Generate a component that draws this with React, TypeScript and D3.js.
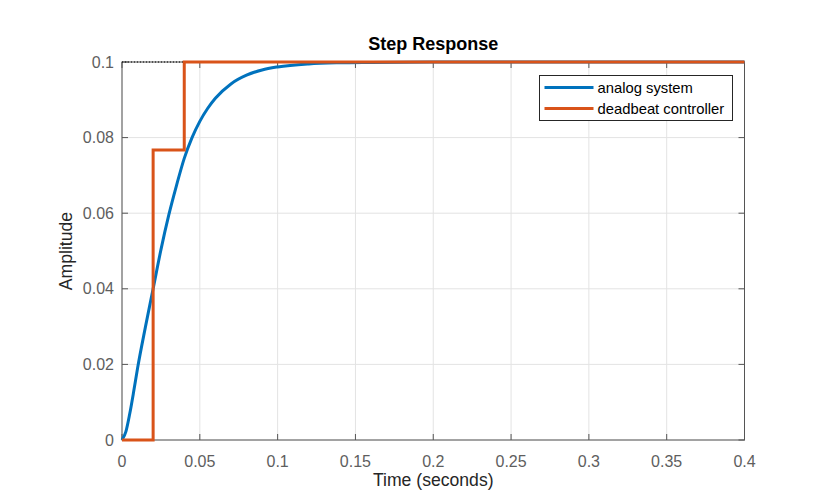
import React, { useRef, useEffect } from 'react';
import * as d3 from 'd3';

// analog system step response
const analogTime = [0, 0.0025, 0.005, 0.0075, 0.01, 0.015, 0.02, 0.025, 0.03, 0.035, 0.04, 0.045, 0.05, 0.055, 0.06, 0.07, 0.08, 0.09, 0.1, 0.12, 0.14, 0.16, 0.2, 0.3, 0.4];
const analogAmp = [0, 0.0022, 0.0070, 0.0128, 0.0190, 0.0298, 0.0400, 0.0503, 0.0594, 0.0673, 0.0745, 0.0800, 0.0843, 0.0877, 0.0904, 0.0942, 0.0965, 0.0979, 0.0987, 0.0995, 0.0998, 0.0999, 0.1, 0.1, 0.1];

// deadbeat controller (stairs)
const deadbeatTime = [0, 0.02, 0.04, 0.4];
const deadbeatAmp = [0, 0.0767, 0.1, 0.1];

const xTicks = [0, 0.05, 0.1, 0.15, 0.2, 0.25, 0.3, 0.35, 0.4];
const yTicks = [0, 0.02, 0.04, 0.06, 0.08, 0.1];
const seriesNames = ['analog system', 'deadbeat controller'];
const seriesColors = ['#0072BD', '#D95319'];

const W = 823;
const H = 494;

const App: React.FC = () => {
  const svgRef = useRef<SVGSVGElement>(null);

  useEffect(() => {
    if (!svgRef.current) return;
    const svg = d3.select(svgRef.current);
    svg.selectAll('*').remove();

    const margin = { top: 62, right: 78.5, bottom: 54, left: 122 };
    const x = d3.scaleLinear().domain([0, 0.4]).range([margin.left, W - margin.right]);
    const y = d3.scaleLinear().domain([0, 0.1]).range([H - margin.bottom, margin.top]);
    const font = "'Liberation Sans', Arial, Helvetica, sans-serif";
    const axisColor = '#555555';
    const tickLen = 6;

    svg.append('rect').attr('width', W).attr('height', H).attr('fill', '#ffffff');

    // Grid lines
    const grid = svg.append('g').attr('stroke', '#e3e3e3').attr('stroke-width', 1);
    xTicks.forEach(t => {
      grid.append('line')
        .attr('x1', x(t)).attr('x2', x(t))
        .attr('y1', y(0)).attr('y2', y(0.1));
    });
    yTicks.forEach(t => {
      grid.append('line')
        .attr('x1', x(0)).attr('x2', x(0.4))
        .attr('y1', y(t)).attr('y2', y(t));
    });

    // Box and ticks
    const box = svg.append('g').attr('stroke', axisColor).attr('stroke-width', 1).attr('fill', 'none');
    box.append('rect')
      .attr('x', x(0)).attr('y', y(0.1))
      .attr('width', x(0.4) - x(0)).attr('height', y(0) - y(0.1));
    xTicks.forEach(t => {
      box.append('line').attr('x1', x(t)).attr('x2', x(t)).attr('y1', y(0)).attr('y2', y(0) - tickLen);
      box.append('line').attr('x1', x(t)).attr('x2', x(t)).attr('y1', y(0.1)).attr('y2', y(0.1) + tickLen);
    });
    yTicks.forEach(t => {
      box.append('line').attr('x1', x(0)).attr('x2', x(0) + tickLen).attr('y1', y(t)).attr('y2', y(t));
      box.append('line').attr('x1', x(0.4)).attr('x2', x(0.4) - tickLen).attr('y1', y(t)).attr('y2', y(t));
    });

    // Tick labels
    xTicks.forEach(t => {
      svg.append('text')
        .attr('x', x(t)).attr('y', y(0) + 27)
        .attr('text-anchor', 'middle')
        .attr('font-family', font).attr('font-size', 16)
        .attr('fill', '#5e5e5e')
        .text(d3.format('~g')(t));
    });
    yTicks.forEach(t => {
      svg.append('text')
        .attr('x', x(0) - 8).attr('y', y(t))
        .attr('dy', '0.35em')
        .attr('text-anchor', 'end')
        .attr('font-family', font).attr('font-size', 16)
        .attr('fill', '#5e5e5e')
        .text(d3.format('~g')(t));
    });

    // Steady-state dotted line
    svg.append('line')
      .attr('x1', x(0)).attr('x2', x(0.4))
      .attr('y1', y(0.1)).attr('y2', y(0.1))
      .attr('stroke', '#000000').attr('stroke-width', 1)
      .attr('stroke-dasharray', '1,2');

    // Analog response
    const analog = analogTime.map((t, i) => [t, analogAmp[i]] as [number, number]);
    svg.append('path')
      .datum(analog)
      .attr('d', d3.line<[number, number]>().x(d => x(d[0])).y(d => y(d[1])).curve(d3.curveMonotoneX))
      .attr('fill', 'none')
      .attr('stroke', seriesColors[0])
      .attr('stroke-width', 3);

    // Deadbeat stairs
    const deadbeat = deadbeatTime.map((t, i) => [t, deadbeatAmp[i]] as [number, number]);
    svg.append('path')
      .datum(deadbeat)
      .attr('d', d3.line<[number, number]>().x(d => x(d[0])).y(d => y(d[1])).curve(d3.curveStepAfter))
      .attr('fill', 'none')
      .attr('stroke', seriesColors[1])
      .attr('stroke-width', 3);

    // Title and axis labels
    svg.append('text')
      .attr('x', (x(0) + x(0.4)) / 2).attr('y', 50)
      .attr('text-anchor', 'middle')
      .attr('font-family', font).attr('font-size', 18).attr('font-weight', 'bold')
      .attr('fill', '#000000')
      .text('Step Response');
    svg.append('text')
      .attr('x', (x(0) + x(0.4)) / 2).attr('y', 486)
      .attr('text-anchor', 'middle')
      .attr('font-family', font).attr('font-size', 17.6)
      .attr('fill', '#262626')
      .text('Time (seconds)');
    svg.append('text')
      .attr('transform', `translate(72, ${(y(0) + y(0.1)) / 2}) rotate(-90)`)
      .attr('text-anchor', 'middle')
      .attr('font-family', font).attr('font-size', 17.6)
      .attr('fill', '#262626')
      .text('Amplitude');

    // Legend
    const legend = svg.append('g').attr('transform', 'translate(539.5, 75.5)');
    legend.append('rect')
      .attr('width', 193).attr('height', 45)
      .attr('fill', '#ffffff').attr('stroke', '#262626').attr('stroke-width', 1);
    seriesNames.forEach((name, i) => {
      const ly = 12 + i * 21;
      legend.append('line')
        .attr('x1', 5).attr('x2', 54).attr('y1', ly).attr('y2', ly)
        .attr('stroke', seriesColors[i]).attr('stroke-width', 3);
      legend.append('text')
        .attr('x', 58).attr('y', ly).attr('dy', '0.35em')
        .attr('font-family', font).attr('font-size', 14.8)
        .attr('fill', '#000000')
        .text(name);
    });
  }, []);

  return (
    <svg ref={svgRef} width={W} height={H} style={{ position: 'absolute', left: 0, top: 0 }} />
  );
};

export default App;
